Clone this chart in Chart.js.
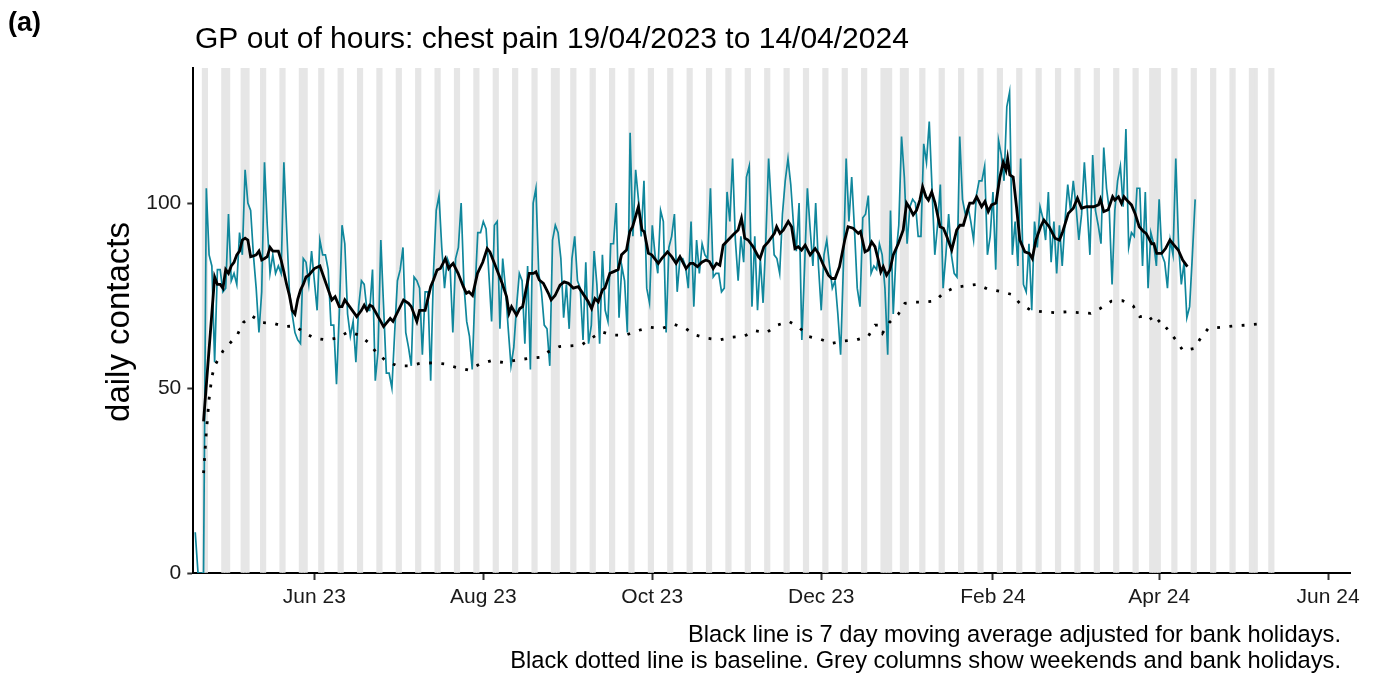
<!DOCTYPE html>
<html>
<head>
<meta charset="utf-8">
<script src="https://cdn.jsdelivr.net/npm/chart.js@4/dist/chart.umd.min.js"></script>
<style>
  html, body { margin: 0; padding: 0; background: #fff; }
  #wrap { width: 1381px; height: 675px; }
</style>
</head>
<body>
<div id="wrap"><canvas id="chart" width="1381" height="675"></canvas></div>
<script>
// --- Data (x = days since 19/04/2023) ---
const xTickDays = [43, 104, 165, 226, 288, 348, 409];
const xTickLabels = ['Jun 23', 'Aug 23', 'Oct 23', 'Dec 23', 'Feb 24', 'Apr 24', 'Jun 24'];
const yTicks = [0, 50, 100];

// daily contacts 19/04/2023 .. 14/04/2024
const dailyContacts = [
  11, 0, 0, 0, 104, 86, 83, 57, 82, 82,
  76, 77, 97, 79, 81, 78, 92, 86, 109, 100,
  98, 86, 77, 65, 76, 111, 94, 81, 86, 81,
  83, 81, 111, 93, 76, 70, 65, 63, 62, 85,
  84, 78, 87, 79, 71, 90, 86, 86, 82, 67,
  67, 51, 70, 94, 89, 70, 64, 68, 57, 72,
  79, 78, 71, 71, 82, 52, 60, 90, 72, 54,
  54, 50, 65, 79, 82, 88, 65, 61, 56, 80,
  79, 77, 59, 76, 76, 52, 81, 98, 102, 88,
  77, 85, 83, 65, 85, 88, 100, 78, 68, 64,
  55, 76, 92, 92, 95, 93, 81, 68, 94, 95,
  66, 85, 77, 66, 56, 61, 72, 81, 79, 62,
  83, 55, 100, 104, 81, 76, 67, 66, 56, 90,
  94, 92, 85, 69, 78, 66, 85, 91, 79, 77,
  63, 84, 62, 67, 87, 78, 62, 86, 71, 68,
  89, 89, 100, 69, 83, 79, 65, 119, 91, 109,
  101, 91, 106, 77, 73, 94, 86, 81, 98, 95,
  65, 88, 91, 97, 76, 85, 85, 83, 77, 95,
  72, 90, 81, 89, 86, 85, 104, 80, 81, 81,
  76, 77, 103, 95, 112, 90, 79, 91, 84, 107,
  110, 72, 91, 71, 85, 73, 90, 112, 99, 86,
  85, 81, 97, 106, 112, 105, 94, 87, 100, 63,
  83, 104, 93, 83, 100, 83, 71, 86, 90, 83,
  77, 79, 70, 59, 83, 112, 95, 107, 93, 77,
  72, 96, 97, 102, 81, 83, 82, 89, 86, 77,
  59, 98, 70, 86, 94, 118, 107, 89, 99, 101,
  100, 91, 91, 116, 111, 122, 104, 86, 94, 105,
  77, 86, 97, 86, 81, 80, 118, 101, 97, 99,
  95, 90, 102, 106, 106, 110, 86, 91, 103, 82,
  117, 113, 106, 126, 130, 86, 95, 83, 112, 78,
  76, 89, 71, 95, 88, 99, 96, 90, 103, 84,
  95, 81, 94, 83, 95, 105, 98, 106, 99, 90,
  97, 111, 99, 86, 113, 98, 94, 89, 115, 104,
  98, 78, 98, 106, 110, 99, 120, 88, 92, 91,
  104, 104, 83, 103, 77, 92, 89, 83, 101, 86,
  84, 77, 90, 86, 112, 89, 78, 84, 69, 72,
  86, 101
];

// 7 day moving average
const avgDays = [
  3, 7, 8, 9, 10, 11, 12, 13, 14, 15, 16, 17, 18, 19, 20, 21, 22, 23, 24, 25,
  26, 27, 28, 29, 30, 31, 32, 33, 34, 35, 36, 37, 38, 39, 40, 41, 42, 43, 45, 49.3,
  50.5, 52, 53, 54, 58.3, 60, 61, 62, 63, 64, 68, 70.4, 71.4, 75.2, 77, 78, 80, 81, 83, 85,
  86, 87.3, 88.5, 90.3, 91.5, 92.2, 93.1, 94.9, 96.8, 97.9, 98.8, 100.1, 101.9, 103.8, 105.4, 106.4, 108, 109.4, 110.8, 112.4,
  113.3, 114.2, 116, 117.2, 118.2, 119.4, 120.6, 122.1, 123, 124.2, 125.7, 127.5, 128.5, 129.9, 131.7, 133.2, 134.7, 136.5, 138.3, 140.7,
  141.9, 143.1, 144.3, 145.5, 147, 147.9, 149.7, 150.9, 152.7, 153.9, 155.7, 156.9, 157.9, 160, 161.3, 162.1, 163.6, 164.8, 167.2, 168.4,
  170.5, 172, 173.6, 175, 177.2, 178.7, 179.8, 181.3, 182.9, 184.4, 185.6, 187, 188.2, 189.4, 190.6, 192.4, 194.2, 196, 197.2, 198.4,
  199.6, 201.4, 203.3, 203.9, 205.3, 206.9, 209.1, 209.9, 211.1, 212.3, 214.1, 215.3, 216.5, 217.7, 218.9, 220.2, 222, 223.8, 225, 226.8,
  228.6, 229.8, 231, 232.6, 234.5, 235.7, 237.5, 239.4, 240.2, 241.8, 243, 244.2, 245.4, 246.6, 247.5, 248.4, 249.6, 250.8, 252, 253.8,
  255.6, 256.8, 258, 259.2, 260.4, 261.6, 262.6, 263.8, 264.7, 265.9, 267.1, 268.9, 270.1, 271.3, 273.1, 274.9, 276.1, 277.3, 279.6, 280.9,
  282.1, 283.9, 285.1, 286.3, 287.5, 289.1, 290.5, 291.7, 292.7, 293.3, 294.1, 295.3, 296.5, 297.7, 299.5, 301.1, 302.2, 303.5, 305.2, 306.4,
  308.3, 310.4, 312, 313.2, 315.2, 317, 318.5, 320, 321.8, 324.3, 326.1, 326.8, 328, 329.6, 331.2, 332, 333.3, 334.4, 335.3, 336.8,
  338, 339.3, 340.8, 342.3, 343.3, 345.3, 346.1, 347.1, 348.9, 350.3, 351.9, 353.3, 354.9, 356.5, 358.2
];
const avgValues = [
  41, 80, 78, 78, 77, 82, 81, 83, 84, 86, 87, 90, 90.5, 90, 85.5, 85.7, 86, 87, 84.6, 85,
  85.5, 88, 87, 87, 87, 84.6, 81.4, 78, 75, 71, 70, 74, 76.5, 78, 80, 80.5, 81.4, 82.3, 83, 73.8,
  74.7, 72, 72, 73.8, 69.3, 71, 72.4, 71, 72.4, 72, 66.6, 68.8, 68, 73.8, 72.9, 72, 68, 71, 71, 77.4,
  79.2, 81.9, 82.3, 85, 82.3, 83, 83.7, 81, 77.4, 75.6, 76, 75, 81, 84, 87.7, 86.8, 83.7, 81, 78.3, 74.7,
  70.2, 72, 69.7, 71.5, 72, 76.5, 81, 81, 81.4, 79.2, 78.3, 75.6, 73.8, 75, 77.8, 78.7, 78.3, 77, 77.4, 74.7,
  73.3, 71.5, 74.2, 73.3, 76.5, 77, 81, 81.4, 82, 86, 87.3, 92.3, 93.6, 99, 92.7, 92.3, 86.4, 86, 83.7, 85,
  86.8, 85.5, 83.7, 85.5, 82.3, 83.7, 83.7, 82.8, 84, 84.6, 84.2, 82.3, 83.7, 83.2, 88.6, 90, 91.4, 92.7, 95.9, 90.5,
  90, 88.2, 85.5, 85, 88.2, 89.5, 91.8, 93.6, 91.8, 92.7, 95, 93.6, 87.7, 88.2, 87.3, 88.6, 86, 87.7, 86.4, 83.2,
  80.5, 79.6, 79.6, 82.8, 90, 93.6, 93.2, 91.8, 92.3, 86.8, 87.3, 89.5, 88.2, 84.6, 81.4, 82.8, 80.5, 81.9, 86, 89,
  92.7, 100, 98.6, 96.8, 98, 100.8, 104.4, 101.7, 100.8, 103, 100, 93.6, 93.2, 91, 87.3, 92.7, 94, 94, 100, 100,
  101.7, 99, 100.4, 97.7, 99.5, 100, 107, 111, 108.9, 112, 107.6, 107, 99, 90, 86.8, 86.4, 85, 90, 93.6, 95.4,
  93.6, 90.5, 90, 92.3, 97.2, 98.6, 101.3, 98.6, 99, 99, 99.5, 101, 97.7, 98.2, 101.7, 100.8, 101.7, 99.9, 101.7, 100.4,
  99.5, 97.2, 93.6, 92.3, 91.8, 89, 89, 86.4, 86.4, 87.7, 90, 88.7, 87.3, 84.6, 82.8
];

// baseline (black dotted line)
const baseDays = [
  3, 4, 5, 6, 7, 10, 13, 15.3, 17.3, 20.4, 24, 28.2, 32.4, 36, 39.7, 43.3, 47.4, 51.6, 55.2, 59.2,
  62.5, 65.5, 68.9, 72.9, 77.3, 81.4, 86, 90.1, 94.1, 98.5, 102.5, 107, 111.2, 115.7, 120.3, 124.7, 127.5, 131.5, 135.3, 139.4,
  143.3, 146.7, 150.9, 155.5, 159.6, 164.2, 168.4, 172.9, 177, 180.7, 185.3, 189.4, 193.6, 198.1, 202, 206.3, 210.1, 214.4, 218.1, 221.6,
  225.6, 229.8, 234.2, 238.7, 243, 245.4, 246.6, 248.1, 250.6, 253.8, 256.2, 259.8, 262.8, 267.1, 270.3, 274.3, 277.9, 282.3, 285.9, 290.3,
  294.7, 297.7, 301.7, 305.9, 310.1, 314.6, 318.8, 323.3, 326.7, 330.8, 334.8, 338.6, 341, 344.1, 346.5, 348.3, 351.2, 354.2, 356.6, 360.6,
  362.9, 365.7, 370.3, 375, 379.6, 384
];
const baseValues = [
  27, 38, 47, 53, 56, 60, 62.5, 64.5, 67.7, 69.5, 67.7, 67.5, 66.6, 66.8, 64.8, 63.4, 63, 63.6, 65.2, 64.3,
  62.3, 59.5, 57.3, 56, 56, 56.7, 56.8, 56.5, 55.6, 54.9, 56.4, 57.4, 56.9, 57.5, 58, 58.3, 59.8, 61.2, 61.4, 61.6,
  63.6, 65.2, 64.3, 64.3, 65.5, 66.4, 66.1, 67.2, 66.1, 64.3, 63.4, 63, 63.7, 64, 65.5, 65, 67, 68, 66.3, 63.9,
  63.2, 62.1, 62.7, 63, 64, 67, 67, 64.8, 67.7, 69.9, 72.9, 73.2, 73.2, 73.5, 75.8, 77.2, 77.6, 78, 76.8, 76.2,
  75.3, 72.9, 71, 70.6, 70.4, 70.6, 70.4, 70.2, 71.5, 73.5, 73.6, 72.2, 69.3, 69.7, 67.2, 68.4, 65.7, 62.8, 60.1, 60.7,
  63.4, 66.1, 66.4, 66.8, 67, 67.3
];

// weekends and bank holidays (grey columns)
const greyDays = [
  3, 4, 10, 11, 12, 17, 18, 19, 24, 25, 31, 32, 38, 39, 40, 45, 46, 52, 53, 59, 60,
  66, 67, 73, 74, 80, 81, 87, 88, 94, 95, 101, 102, 108, 109, 115, 116, 122, 123,
  129, 130, 131, 136, 137, 143, 144, 150, 151, 157, 158, 164, 165, 171, 172, 178, 179,
  185, 186, 192, 193, 199, 200, 206, 207, 213, 214, 220, 221, 227, 228, 234, 235,
  241, 242, 248, 249, 250, 251, 255, 256, 257, 262, 263, 269, 270, 276, 277, 283, 284,
  290, 291, 297, 298, 304, 305, 311, 312, 318, 319, 325, 326, 332, 333, 339, 340,
  345, 346, 347, 348, 353, 354, 360, 361, 367, 368, 374, 375, 381, 382, 383, 388, 389
];

const X_MIN = -0.7, X_MAX = 416.9;
const Y_MAX = 136.5;
const FONT = '"Liberation Sans", Arial, Helvetica, sans-serif';

// --- Text outside the axes ---
const textPlugin = {
  id: 'figText',
  afterDraw(chart) {
    const ctx = chart.ctx;
    ctx.save();
    ctx.fillStyle = '#000';
    ctx.textBaseline = 'alphabetic';

    ctx.font = 'bold 27px ' + FONT;
    ctx.textAlign = 'left';
    ctx.fillText('(a)', 8, 31);

    ctx.font = '30px ' + FONT;
    ctx.fillText('GP out of hours: chest pain 19/04/2023 to 14/04/2024', 195, 48);

    ctx.font = '23.7px ' + FONT;
    ctx.textAlign = 'right';
    ctx.fillText('Black line is 7 day moving average adjusted for bank holidays.', 1341, 642);
    ctx.fillText('Black dotted line is baseline. Grey columns show weekends and bank holidays.', 1341, 668);

    ctx.translate(120, 322);
    ctx.rotate(-Math.PI / 2);
    ctx.textAlign = 'center';
    ctx.textBaseline = 'middle';
    ctx.font = '33px ' + FONT;
    ctx.fillText('daily contacts', 0, 0);
    ctx.restore();
  }
};

const ctx = document.getElementById('chart').getContext('2d');
new Chart(ctx, {
  type: 'line',
  data: {
    datasets: [
      {
        label: 'baseline',
        data: baseDays.map((d, i) => ({ x: d, y: baseValues[i] })),
        borderColor: '#000',
        borderWidth: 2.8,
        borderDash: [2.8, 9.5],
        pointRadius: 0,
        tension: 0,
        order: 2
      },
      {
        label: '7 day average',
        data: avgDays.map((d, i) => ({ x: d, y: avgValues[i] })),
        borderColor: '#000',
        borderWidth: 2.8,
        pointRadius: 0,
        tension: 0,
        order: 1
      },
      {
        label: 'daily contacts',
        data: dailyContacts.map((v, i) => ({ x: i, y: v })),
        borderColor: '#10879c',
        borderWidth: 1.7,
        pointRadius: 0,
        tension: 0,
        order: 3
      },
      {
        type: 'bar',
        label: 'weekends and bank holidays',
        data: greyDays.map(d => ({ x: d, y: Y_MAX })),
        backgroundColor: '#e6e6e6',
        borderWidth: 0,
        barPercentage: 1,
        categoryPercentage: 1,
        order: 4
      }
    ]
  },
  options: {
    responsive: false,
    animation: false,
    layout: { padding: { left: 0, top: 68, right: 31, bottom: 0 } },
    plugins: {
      legend: { display: false },
      tooltip: { enabled: false }
    },
    scales: {
      x: {
        type: 'linear',
        min: X_MIN,
        max: X_MAX,
        offset: false,
        afterBuildTicks: (scale) => { scale.ticks = xTickDays.map(v => ({ value: v })); },
        afterFit: (scale) => { scale.height = 102; },
        ticks: {
          autoSkip: false,
          maxRotation: 0,
          padding: 5,
          color: '#1a1a1a',
          font: { family: FONT, size: 21 },
          callback: (v) => xTickLabels[xTickDays.indexOf(v)]
        },
        grid: { offset: false, drawOnChartArea: false, drawTicks: true, tickLength: 7, tickColor: '#333', tickWidth: 2 },
        border: { display: true, color: '#000', width: 2 }
      },
      y: {
        min: 0,
        max: Y_MAX,
        afterBuildTicks: (scale) => { scale.ticks = yTicks.map(v => ({ value: v })); },
        afterFit: (scale) => { scale.width = 193.3; },
        ticks: {
          padding: 6,
          color: '#1a1a1a',
          font: { family: FONT, size: 21 }
        },
        grid: { offset: false, drawOnChartArea: false, drawTicks: true, tickLength: 6, tickColor: '#333', tickWidth: 2 },
        border: { display: true, color: '#000', width: 2 }
      }
    }
  },
  plugins: [textPlugin]
});
</script>
</body>
</html>
